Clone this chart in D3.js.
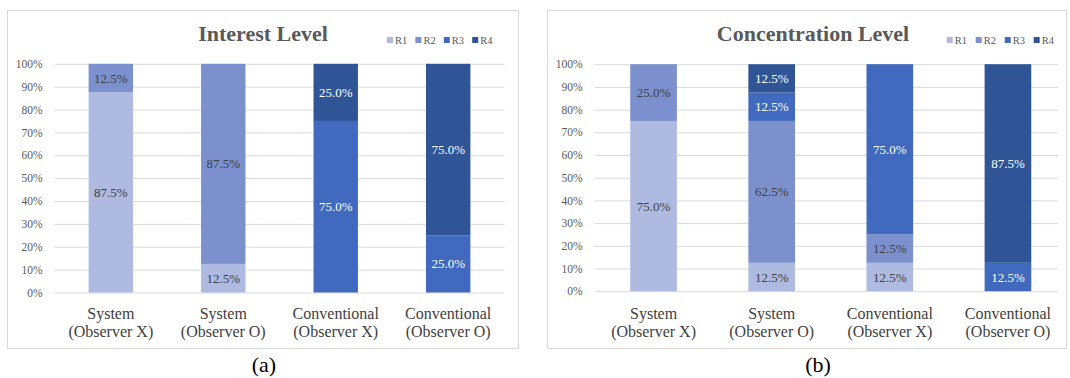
<!DOCTYPE html>
<html>
<head>
<meta charset="utf-8">
<script src="https://cdn.jsdelivr.net/npm/d3@7"></script>
<style>
  html, body { margin: 0; padding: 0; background: #fff; }
  svg { display: block; }
  text { font-family: "Liberation Serif", "Times New Roman", serif; }
</style>
</head>
<body>
<svg id="chart" width="1070" height="378"></svg>
<script>
// Categories (two-line axis labels)
const categoryLine1 = ["System", "System", "Conventional", "Conventional"];
const categoryLine2 = ["(Observer X)", "(Observer O)", "(Observer X)", "(Observer O)"];
const seriesNames = ["R1", "R2", "R3", "R4"];

// Interest Level shares (%) per category
const interestR1 = [87.5, 12.5, 0, 0];
const interestR2 = [12.5, 87.5, 0, 0];
const interestR3 = [0, 0, 75.0, 25.0];
const interestR4 = [0, 0, 25.0, 75.0];

// Concentration Level shares (%) per category
const concentrationR1 = [75.0, 12.5, 12.5, 0];
const concentrationR2 = [25.0, 62.5, 12.5, 0];
const concentrationR3 = [0, 12.5, 75.0, 12.5];
const concentrationR4 = [0, 12.5, 0, 87.5];

const yTicks = [0, 10, 20, 30, 40, 50, 60, 70, 80, 90, 100];

const colors = { R1: "#aebadf", R2: "#7b90cd", R3: "#4169be", R4: "#2f5597" };
const labelColors = { R1: "#404040", R2: "#404040", R3: "#ffffff", R4: "#ffffff" };

function buildRows(r1, r2, r3, r4) {
  return categoryLine1.map((c, i) => ({ idx: i, R1: r1[i], R2: r2[i], R3: r3[i], R4: r4[i] }));
}

const panels = [
  {
    title: "Interest Level",
    caption: "(a)",
    rows: buildRows(interestR1, interestR2, interestR3, interestR4),
    box: { x: 7, y: 10, w: 511, h: 338 },
    plot: { x0: 54.6, x1: 504.4, gx1: 504.4, yTop: 63.8, yBottom: 292.5 },
    titleX: 263, legendX: 387, legendStep: 28.4, captionX: 264
  },
  {
    title: "Concentration Level",
    caption: "(b)",
    rows: buildRows(concentrationR1, concentrationR2, concentrationR3, concentrationR4),
    box: { x: 547, y: 10, w: 519, h: 338 },
    plot: { x0: 594.5, x1: 1067, gx1: 1058, yTop: 64.2, yBottom: 291.2 },
    titleX: 813, legendX: 946.7, legendStep: 29, captionX: 818
  }
];

const svg = d3.select("#chart");
svg.append("rect").attr("width", 1070).attr("height", 378).attr("fill", "#fff");

const stack = d3.stack().keys(seriesNames);

panels.forEach(p => {
  const g = svg.append("g");

  // Chart frame
  g.append("rect")
    .attr("x", p.box.x + 0.5).attr("y", p.box.y + 0.5)
    .attr("width", p.box.w).attr("height", p.box.h)
    .attr("fill", "#fff").attr("stroke", "#d9d9d9").attr("stroke-width", 1);

  const x = d3.scaleBand()
    .domain(d3.range(categoryLine1.length))
    .range([p.plot.x0, p.plot.x1])
    .paddingInner(0.605).paddingOuter(0.3025);

  const y = d3.scaleLinear().domain([0, 100]).range([p.plot.yBottom, p.plot.yTop]);

  // Gridlines and y-axis tick labels
  const yAxis = d3.axisLeft(y)
    .tickValues(yTicks)
    .tickSize(-(p.plot.gx1 - p.plot.x0))
    .tickPadding(12)
    .tickFormat(d => d + "%");
  const ya = g.append("g")
    .attr("transform", `translate(${p.plot.x0},0)`)
    .call(yAxis);
  ya.select(".domain").remove();
  ya.selectAll(".tick line").attr("stroke", "#d9d9d9").attr("stroke-width", 1);
  ya.selectAll(".tick text")
    .attr("fill", "#595959")
    .style("font-family", "'Liberation Serif', serif")
    .style("font-size", "11.5px");

  // Stacked bars
  const stacked = stack(p.rows);
  const layers = g.selectAll(".layer").data(stacked).enter().append("g")
    .attr("fill", d => colors[d.key]);
  layers.selectAll("rect").data(d => d.map(s => ({ s, key: d.key })))
    .enter().append("rect")
    .attr("x", d => x(d.s.data.idx))
    .attr("width", x.bandwidth())
    .attr("y", d => y(d.s[1]))
    .attr("height", d => y(d.s[0]) - y(d.s[1]));

  // Value labels inside segments
  stacked.forEach(layer => {
    layer.forEach(s => {
      const v = s[1] - s[0];
      if (v <= 0) return;
      g.append("text")
        .attr("x", x(s.data.idx) + x.bandwidth() / 2)
        .attr("y", (y(s[0]) + y(s[1])) / 2)
        .attr("text-anchor", "middle")
        .attr("dominant-baseline", "central")
        .attr("fill", labelColors[layer.key])
        .style("font-size", "13px")
        .text(v.toFixed(1) + "%");
    });
  });

  // Category labels
  categoryLine1.forEach((c, i) => {
    const cx = x(i) + x.bandwidth() / 2;
    const t = g.append("text")
      .attr("x", cx).attr("text-anchor", "middle")
      .attr("fill", "#404040").style("font-size", "16px");
    t.append("tspan").attr("x", cx).attr("y", 319).text(c);
    t.append("tspan").attr("x", cx).attr("y", 336.5).text(categoryLine2[i]);
  });

  // Title
  g.append("text")
    .attr("x", p.titleX).attr("y", 41)
    .attr("text-anchor", "middle")
    .attr("fill", "#595959")
    .style("font-size", "22px").style("font-weight", "bold")
    .text(p.title);

  // Legend
  seriesNames.forEach((k, i) => {
    const lx = p.legendX + i * p.legendStep;
    g.append("rect")
      .attr("x", lx).attr("y", 37).attr("width", 6).attr("height", 6)
      .attr("fill", colors[k]);
    g.append("text")
      .attr("x", lx + 8).attr("y", 40)
      .attr("dominant-baseline", "central")
      .attr("fill", "#595959")
      .style("font-size", "10.5px")
      .text(k);
  });

  // Panel caption
  svg.append("text")
    .attr("x", p.captionX).attr("y", 372)
    .attr("text-anchor", "middle")
    .attr("fill", "#000")
    .style("font-size", "22px")
    .text(p.caption);
});
</script>
</body>
</html>
